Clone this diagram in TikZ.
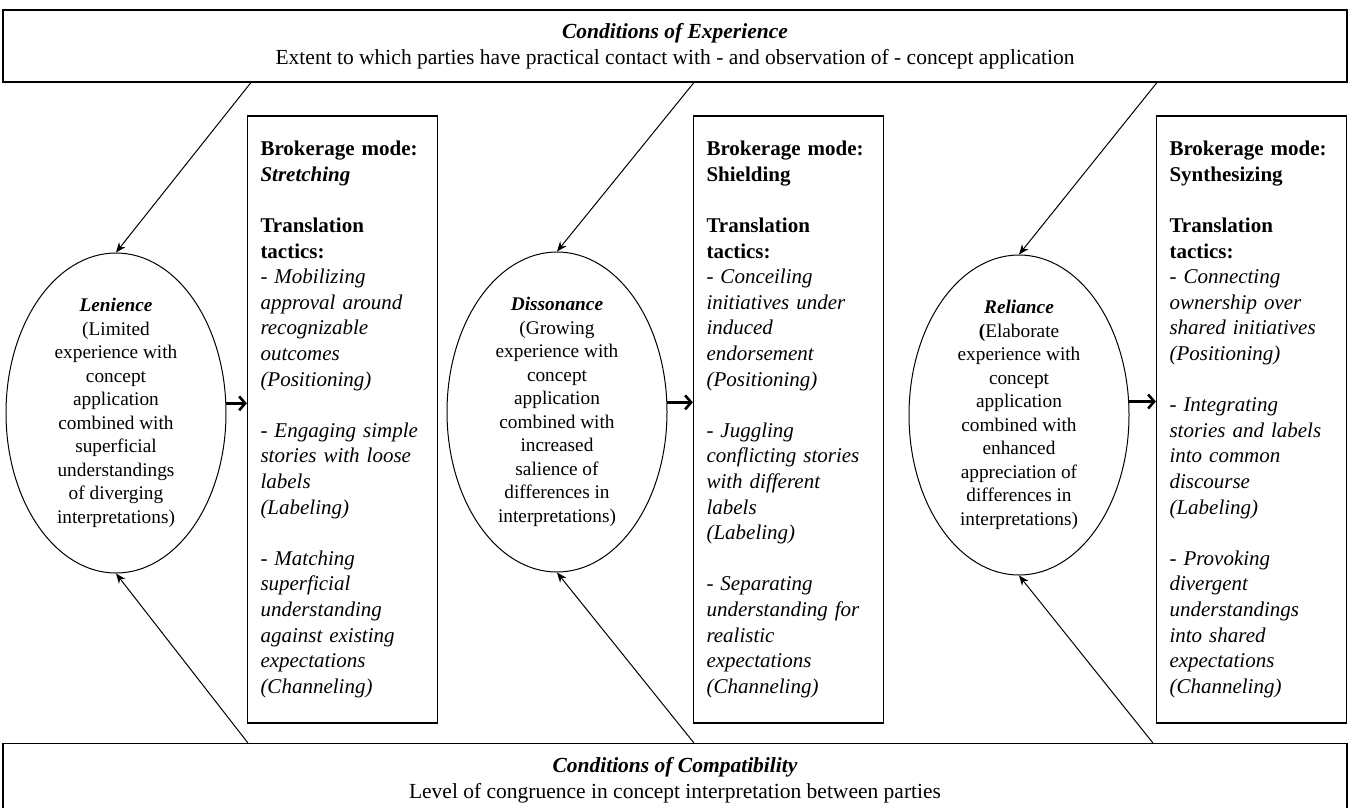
\documentclass[tikz,border=0pt]{standalone}
\usepackage{fontspec}
\setmainfont{Liberation Serif}
\usetikzlibrary{arrows.meta,positioning,shapes.geometric,calc}
\tikzset{
  condbox/.style={draw, line width=1.3pt, minimum width=1344pt, minimum height=72pt,
                  align=center, inner sep=0pt, font=\fontsize{21.5}{26}\selectfont},
  phase/.style={draw, line width=1pt, ellipse, minimum width=220pt, minimum height=320pt,
                inner sep=-6pt, align=center, font=\fontsize{19.3}{23.5}\selectfont},
  modebox/.style={draw, line width=1.3pt, minimum height=607pt, text width=164pt,
                  inner xsep=13pt, align=left, font=\fontsize{21}{25.6}\selectfont},
  feed/.style={-{Stealth[length=10pt,width=8pt]}, line width=1pt},
  push/.style={-{Straight Barb[length=6pt,width=14pt]}, line width=2.6pt},
}
\newcommand{\tactic}[1]{\textit{#1}}

\begin{document}
\begin{tikzpicture}[x=1pt, y=-1pt]
    \useasboundingbox (0,0) rectangle (1349,807);
    % conditions
    \node[condbox] (exp) at (675,46) {\textbf{\textit{Conditions of Experience}}\\
      Extent to which parties have practical contact with - and observation of - concept application};
    \node[condbox, minimum height=73pt] (comp) at (675,780) {\textbf{\textit{Conditions of Compatibility}}\\
      Level of congruence in concept interpretation between parties};
    % phases
    \node[phase] (len) at (116,413) {\textbf{\textit{Lenience}}\\(Limited\\experience with\\concept\\application\\
      combined with\\superficial\\understandings\\of diverging\\interpretations)};
    \node[phase] (dis) at (557,412) {\textbf{\textit{Dissonance}}\\(Growing\\experience with\\concept\\application\\
      combined with\\increased\\salience of\\differences in\\interpretations)};
    \node[phase] (rel) at (1019,415) {\textbf{\textit{Reliance}}\\\textbf{(}Elaborate\\experience with\\concept\\application\\
      combined with\\enhanced\\appreciation of\\differences in\\interpretations)};
    % brokerage modes
    \node[modebox] (stretch) at (342.5,419.5) {\textbf{Brokerage mode:}\\\textbf{\textit{Stretching}}\\[25.6pt]
      \textbf{Translation}\\\textbf{tactics:}\\
      \tactic{- Mobilizing\\approval around\\recognizable\\outcomes\\(Positioning)}\\[25.6pt]
      \tactic{- Engaging simple\\stories with loose\\labels\\(Labeling)}\\[25.6pt]
      \tactic{- Matching\\superficial\\understanding\\against existing\\expectations\\(Channeling)}};
    \node[modebox] (shield) at (788.5,419.5) {\textbf{Brokerage mode:}\\\textbf{Shielding}\\[25.6pt]
      \textbf{Translation}\\\textbf{tactics:}\\
      \tactic{- Conceiling\\initiatives under\\induced\\endorsement\\(Positioning)}\\[25.6pt]
      \tactic{- Juggling\\conflicting stories\\with different\\labels\\(Labeling)}\\[25.6pt]
      \tactic{- Separating\\understanding for\\realistic\\expectations\\(Channeling)}};
    \node[modebox] (synth) at (1251.5,419.5) {\textbf{Brokerage mode:}\\\textbf{Synthesizing}\\[25.6pt]
      \textbf{Translation}\\\textbf{tactics:}\\
      \tactic{- Connecting\\ownership over\\shared initiatives\\(Positioning)}\\[25.6pt]
      \tactic{- Integrating\\stories and labels\\into common\\discourse\\(Labeling)}\\[25.6pt]
      \tactic{- Provoking\\divergent\\understandings\\into shared\\expectations\\(Channeling)}};
    % arrows
    \draw[feed] ([xshift=4pt]stretch.north west |- exp.south) -- (len.north);
    \draw[feed] ([xshift=1pt]shield.north west |- exp.south) -- (dis.north);
    \draw[feed] ([xshift=1pt]synth.north west |- exp.south) -- (rel.north);
    \draw[feed] ([xshift=1pt]stretch.south west |- comp.north) -- (len.south);
    \draw[feed] ([xshift=1pt]shield.south west |- comp.north) -- (dis.south);
    \draw[feed] ([xshift=-3pt]synth.south west |- comp.north) -- (rel.south);
    \draw[push] (len.5) -- (len.5 -| stretch.west);
    \draw[push] (dis.5) -- (dis.5 -| shield.west);
    \draw[push] (rel.7) -- (rel.7 -| synth.west);
\end{tikzpicture}
\end{document}
